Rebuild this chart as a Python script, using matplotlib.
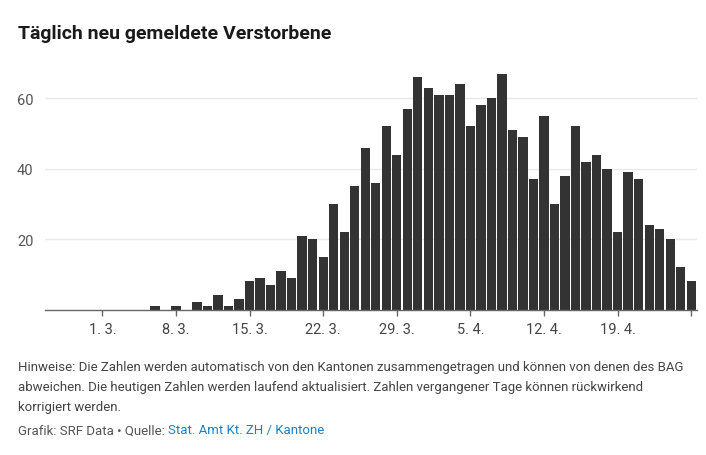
import matplotlib
matplotlib.use("Agg")
import matplotlib.pyplot as plt
import pandas as pd

plt.rcParams['font.family'] = ['Roboto', 'DejaVu Sans']

# daily new deaths, 25.2.2020 - 26.4.2020
days = pd.date_range("2020-02-25", "2020-04-26", freq="D")
deaths = [0, 0, 0, 0, 0,                                   # 25.2. - 29.2.
          0, 0, 0, 0, 0, 1, 0, 1, 0, 2, 1, 4, 1, 3, 8, 9,   # 1.3. - 16.3.
          7, 11, 9, 21, 20, 15, 30, 22, 35, 46, 36, 52, 44, 57, 66,  # 17.3. - 31.3.
          63, 61, 61, 64, 52, 58, 60, 67, 51, 49, 37, 55, 30, 38, 52,  # 1.4. - 15.4.
          42, 44, 40, 22, 39, 37, 24, 23, 20, 12, 8]        # 16.4. - 26.4.

tick_days = pd.date_range("2020-03-01", "2020-04-26", freq="7D")
tick_labels = [f"{d.day}. {d.month}." for d in tick_days]
tick_labels[-1] = ""   # last tick has no label
y_ticks = [20, 40, 60]

title = "Täglich neu gemeldete Verstorbene"
note = ["Hinweise: Die Zahlen werden automatisch von den Kantonen zusammengetragen und können von denen des BAG",
        "abweichen. Die heutigen Zahlen werden laufend aktualisiert. Zahlen vergangener Tage können rückwirkend",
        "korrigiert werden."]
credit = "Grafik: SRF Data \u2022 Quelle: "
source = "Stat. Amt Kt. ZH / Kantone"

W, H = 706, 456
fig = plt.figure(figsize=(W / 100, H / 100), dpi=100)
ax = fig.add_axes([44.5 / W, 1 - 310.5 / H, 652 / W, (310.5 - 64) / H])

x = list(range(len(days)))
ax.bar(x, deaths, width=0.885, color="#333333", linewidth=0, zorder=3)

ax.set_xlim(-0.5, len(days) - 0.5)
ax.set_ylim(0, 70)

pos = {d: i for i, d in enumerate(days)}
ax.set_xticks([pos[d] for d in tick_days])
ax.set_xticklabels(tick_labels)
ax.set_yticks(y_ticks)
ax.set_yticklabels([str(v) for v in y_ticks])

for s in ["top", "right", "left"]:
    ax.spines[s].set_visible(False)
ax.spines["bottom"].set_color("#666666")
ax.spines["bottom"].set_linewidth(1.0)
ax.spines["bottom"].set_zorder(4)

ax.tick_params(axis="x", length=4, width=1, color="#666666", labelcolor="#444444",
               labelsize=10.5, pad=5)
ax.tick_params(axis="y", length=0, labelcolor="#555555", labelsize=10.5, pad=8)
ax.grid(axis="y", color="#e9e9e9", linewidth=1.0, zorder=0)
ax.set_axisbelow(True)

fig.text(18 / W, 1 - 34 / H, title, fontsize=14, fontweight="bold",
         color="#1a1a1a", va="center", ha="left")

# fit the note font so the first line ends where the reference's does
fig.canvas.draw()
probe = fig.text(0, 0, note[0], fontsize=10)
w = probe.get_window_extent().width
probe.remove()
fs = 10 * (688 - 18) / w

for i, line in enumerate(note):
    fig.text(18 / W, 1 - (368 + i * 19.5) / H, line, fontsize=fs,
             color="#444444", va="center", ha="left")

t1 = fig.text(18 / W, 1 - 431 / H, credit, fontsize=fs, color="#555555",
              va="center", ha="left")
fig.canvas.draw()
bb = t1.get_window_extent()
fig.text(bb.x1 / W, 1 - 431 / H, source, fontsize=fs, color="#1a80c4",
         va="center", ha="left")

fig.savefig("out.png", dpi=100)
